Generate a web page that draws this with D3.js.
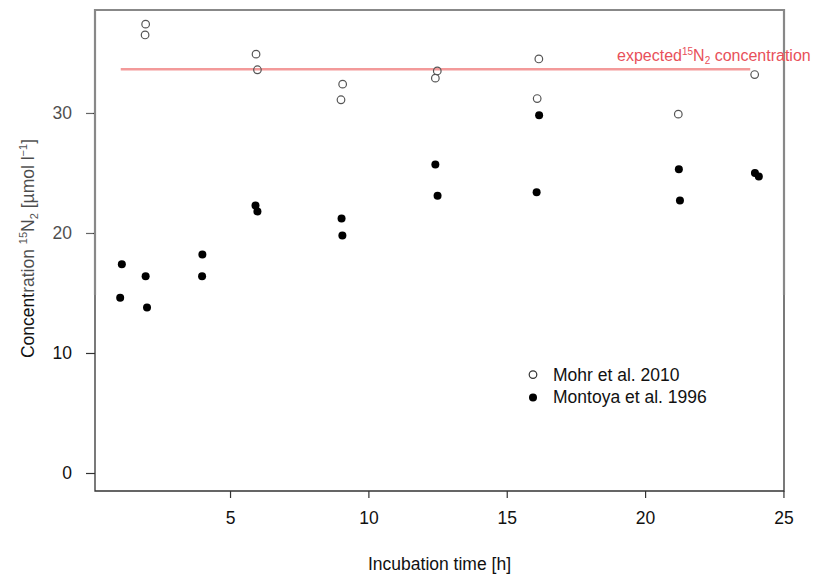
<!DOCTYPE html>
<html><head><meta charset="utf-8">
<script src="https://cdn.jsdelivr.net/npm/d3@7"></script>
<style>
body{margin:0;background:#fff;}
svg{display:block;font-family:"Liberation Sans",Arial,sans-serif;}
</style></head>
<body><div id="chart"></div>
<script>
const mohrX = [1.95, 1.93, 5.94, 5.99, 9.07, 9.01, 12.49, 12.42, 16.16, 16.10, 21.20, 23.96];
const mohrY = [37.4, 36.5, 34.9, 33.6, 32.4, 31.1, 33.5, 32.9, 34.5, 31.2, 29.9, 33.2];
const montoyaX = [1.09, 1.03, 1.95, 2.00, 4.00, 3.99, 5.92, 5.99, 9.03, 9.06, 12.42, 12.50, 16.17, 16.08, 21.22, 21.26, 23.97, 24.11];
const montoyaY = [17.4, 14.6, 16.4, 13.8, 18.2, 16.4, 22.3, 21.8, 21.2, 19.8, 25.7, 23.1, 29.8, 23.4, 25.3, 22.7, 25.0, 24.7];
const expectedX = [1.05, 23.8];
const expectedY = [33.65, 33.65];
const xTicks = [5, 10, 15, 20, 25];
const yTicks = [0, 10, 20, 30];
const seriesNames = ["Mohr et al. 2010", "Montoya et al. 1996"];

const W = 813, H = 576;
const L = 95, R = 784, T = 10, B = 491;
const svg = d3.select("#chart").append("svg").attr("width", W).attr("height", H);

const x = d3.scaleLinear().domain([0.12, 25.02]).range([L, R]);
const y = d3.scaleLinear().domain([-1.5, 38.58]).range([B, T]);

// expected line
svg.append("line")
  .attr("x1", x(expectedX[0])).attr("x2", x(expectedX[1]))
  .attr("y1", y(expectedY[0])).attr("y2", y(expectedY[1]))
  .attr("stroke", "#f39a9a").attr("stroke-width", 2.5);

// points
svg.append("g").selectAll("circle").data(mohrX.map((v,i)=>[v,mohrY[i]])).join("circle")
  .attr("cx", d=>x(d[0])).attr("cy", d=>y(d[1])).attr("r", 3.8)
  .attr("fill", "none").attr("stroke", "#555").attr("stroke-width", 1.2);
svg.append("g").selectAll("circle").data(montoyaX.map((v,i)=>[v,montoyaY[i]])).join("circle")
  .attr("cx", d=>x(d[0])).attr("cy", d=>y(d[1])).attr("r", 4)
  .attr("fill", "#000");

// axes
const xa = svg.append("g").attr("transform", `translate(0,${B})`)
  .call(d3.axisBottom(x).tickValues(xTicks).tickSize(7).tickPadding(14).tickFormat(d3.format("d")));
const ya = svg.append("g").attr("transform", `translate(${L-9},0)`)
  .call(d3.axisLeft(y).tickValues(yTicks).tickSize(0).tickPadding(14).tickFormat(d3.format("d")));
ya.selectAll(".tick line").attr("x1", 0).attr("x2", 9);
[xa, ya].forEach(a => {
  a.select(".domain").remove();
  a.selectAll(".tick line").attr("stroke", "#333").attr("stroke-width", 1.2);
  a.selectAll(".tick text").attr("font-size", "17.5px").attr("fill", "#111")
    .attr("font-family", "Liberation Sans, Arial, sans-serif");
});

// frame: lower part black, upper part gray
const split = 295;
svg.append("path").attr("d", `M${L},${split}V${B}H${R}V${split}`)
  .attr("fill", "none").attr("stroke", "#333").attr("stroke-width", 1.3);
svg.append("path").attr("d", `M${L},${split}V${T}H${R}V${split}`)
  .attr("fill", "none").attr("stroke", "#888").attr("stroke-width", 2.2);

// axis titles
svg.append("text").attr("x", (L+R)/2).attr("y", 570).attr("text-anchor", "middle")
  .attr("font-size", "17.5px").attr("fill", "#111").text("Incubation time [h]");
const yl = svg.append("text").attr("transform", `translate(34,${(T+B)/2 - 2}) rotate(-90)`)
  .attr("text-anchor", "middle").attr("font-size", "17.5px").attr("fill", "#111");
yl.append("tspan").text("Concentration ");
yl.append("tspan").attr("font-size", "11px").attr("dy", -7).text("15");
yl.append("tspan").attr("dy", 7).text("N");
yl.append("tspan").attr("font-size", "11px").attr("dy", 4).text("2");
yl.append("tspan").attr("dy", -4).text(" [µmol l");
yl.append("tspan").attr("font-size", "11px").attr("dy", -7).text("−1");
yl.append("tspan").attr("dy", 7).text("]");

// fade overlay for upper-left label region (pasted look)
svg.append("rect").attr("x", 0).attr("y", 0).attr("width", L - 2).attr("height", split)
  .attr("fill", "#fff").attr("opacity", 0.25);

// expected label
const el = svg.append("text").attr("x", 617).attr("y", 61).attr("font-size", "16px").attr("fill", "#e8505a");
el.append("tspan").text("expected");
el.append("tspan").attr("font-size", "10px").attr("dy", -6).text("15");
el.append("tspan").attr("dy", 6).text("N");
el.append("tspan").attr("font-size", "10px").attr("dy", 3).text("2");
el.append("tspan").attr("dy", -3).text(" concentration");

// legend
const lg = svg.append("g");
lg.append("circle").attr("cx", 533).attr("cy", y(8.2)).attr("r", 3.8)
  .attr("fill", "none").attr("stroke", "#333").attr("stroke-width", 1.2);
lg.append("circle").attr("cx", 533).attr("cy", y(6.3)).attr("r", 4).attr("fill", "#000");
lg.selectAll("text").data(seriesNames).join("text")
  .attr("x", 553).attr("y", (d,i)=> y(i===0 ? 8.2 : 6.3) + 6)
  .attr("font-size", "17.5px").attr("fill", "#111").text(d=>d);
</script></body></html>
